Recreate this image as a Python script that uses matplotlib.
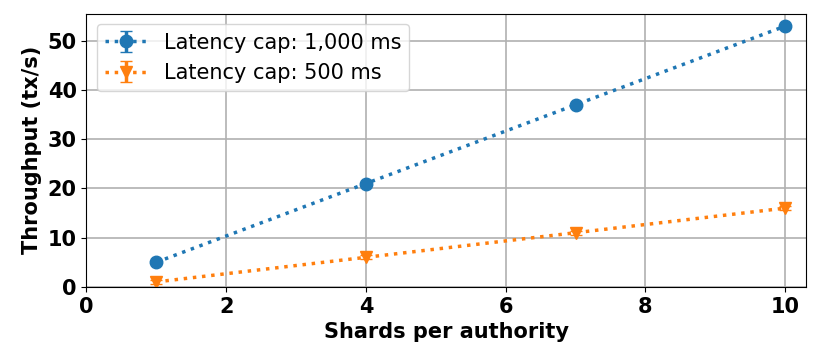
import matplotlib
matplotlib.use('Agg')
import matplotlib.pyplot as plt

shards = [1, 4, 7, 10]
tput_1000 = [5, 21, 37, 53]
err_1000 = [0.3, 0.3, 0.3, 0.3]
tput_500 = [1, 6, 11, 16]
err_500 = [0.4, 0.4, 0.4, 0.4]

plt.rcParams['font.weight'] = 'bold'
plt.rcParams['axes.labelweight'] = 'bold'

fig, ax = plt.subplots(figsize=(8.31, 3.64), dpi=100)
fig.subplots_adjust(left=0.104, right=0.970, bottom=0.212, top=0.962)

ax.errorbar(shards, tput_1000, yerr=err_1000, fmt='o', ls=':', lw=2.5,
            ms=9, capsize=4, color='tab:blue', label='Latency cap: 1,000 ms')
ax.errorbar(shards, tput_500, yerr=err_500, fmt='v', ls=':', lw=2.5,
            ms=9, capsize=4, color='tab:orange', label='Latency cap: 500 ms')

ax.set_xlim(0, 10.3)
ax.set_ylim(0, 55.5)
ax.grid(lw=1.2, color='#b0b0b0')
ax.set_axisbelow(True)
ax.tick_params(labelsize=15)
ax.set_xlabel('Shards per authority', fontsize=15)
ax.set_ylabel('Throughput (tx/s)', fontsize=15)
leg = ax.legend(loc='upper left', prop={'weight': 'normal', 'size': 15})
plt.savefig('out.png', dpi=100)
